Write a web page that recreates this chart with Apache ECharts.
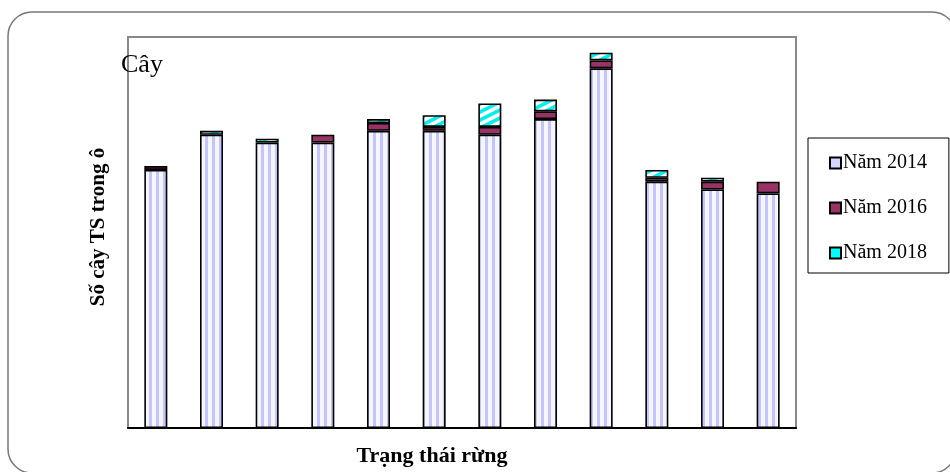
<!DOCTYPE html>
<html>
<head>
<meta charset="utf-8">
<script src="https://cdn.jsdelivr.net/npm/echarts@6/dist/echarts.min.js"></script>
<style>
  html, body { margin: 0; padding: 0; background: #fff; }
  #chart { width: 950px; height: 472px; }
</style>
</head>
<body>
<div id="chart"></div>
<script>
// Forest-state categories (unlabelled on the axis)
const categories = ['1', '2', '3', '4', '5', '6', '7', '8', '9', '10', '11', '12'];
// Regenerating trees per plot, stacked by survey year
const nam2014 = [66, 75, 73, 73, 76, 76, 75, 79, 92, 63, 61, 60];
const nam2016 = [1, 0, 0, 2, 2, 1, 2, 2, 2, 1, 2, 3];
const nam2018 = [0, 1, 1, 0, 1, 3, 6, 3, 2, 2, 1, 0];
const seriesNames = ['Năm 2014', 'Năm 2016', 'Năm 2018'];
const yMax = 100;

const SERIF = "'Liberation Serif', 'Times New Roman', serif";

// Empty segments are skipped so they leave no extra outline in the stack
const skipZero = arr => arr.map(v => (v === 0 ? '-' : v));

// Vertical lavender stripes
function stripePattern() {
  const c = document.createElement('canvas');
  c.width = 7; c.height = 7;
  const g = c.getContext('2d');
  g.fillStyle = '#f6f6ff';
  g.fillRect(0, 0, 7, 7);
  g.fillStyle = '#c4c4ff';
  g.fillRect(2, 0, 3, 7);
  return c;
}

// Wide upward diagonal cyan hatch
function hatchPattern() {
  const c = document.createElement('canvas');
  c.width = 16; c.height = 8;
  const g = c.getContext('2d');
  g.fillStyle = '#ffffff';
  g.fillRect(0, 0, 16, 8);
  g.strokeStyle = '#00f0f0';
  g.lineWidth = 3.5;
  for (let k = -1; k <= 1; k++) {
    g.beginPath();
    g.moveTo(-16, 16 + k * 8);
    g.lineTo(32, -8 + k * 8);
    g.stroke();
  }
  return c;
}

const chart = echarts.init(document.getElementById('chart'), null, { renderer: 'canvas' });

const barBase = {
  type: 'bar',
  stack: 'total',
  barWidth: 23,
  animation: false
};
const outline = { borderColor: '#000', borderWidth: 1.6 };

chart.setOption({
  backgroundColor: '#ffffff',
  animation: false,
  graphic: [{
    type: 'rect',
    z: -10,
    shape: { x: 8, y: 12, width: 948, height: 461, r: 24 },
    style: { fill: 'none', stroke: '#777777', lineWidth: 1.5 }
  }],
  title: {
    text: 'Cây',
    left: 121,
    top: 52,
    padding: 0,
    textStyle: { fontFamily: SERIF, fontSize: 26, fontWeight: 'normal', color: '#000', lineHeight: 26 }
  },
  legend: {
    orient: 'vertical',
    left: 808,
    top: 138,
    padding: [15, 22, 10, 21],
    itemGap: 25,
    itemWidth: 11,
    itemHeight: 11,
    icon: 'rect',
    backgroundColor: '#ffffff',
    borderColor: '#000000',
    borderWidth: 1,
    borderRadius: 0,
    textStyle: { fontFamily: SERIF, fontSize: 20, color: '#000', lineHeight: 20, padding: [0, 0, 0, -3] },
    itemStyle: { borderColor: '#000', borderWidth: 2 },
    data: [
      { name: seriesNames[0], itemStyle: { color: '#d6d6ff' } },
      { name: seriesNames[1], itemStyle: { color: '#993366' } },
      { name: seriesNames[2], itemStyle: { color: '#00ffff' } }
    ]
  },
  grid: {
    left: 128, top: 37, width: 668, height: 391,
    show: true,
    borderColor: '#888888',
    borderWidth: 2,
    backgroundColor: 'transparent'
  },
  xAxis: {
    type: 'category',
    data: categories,
    name: 'Trạng thái rừng',
    nameLocation: 'middle',
    nameGap: 17,
    nameTextStyle: { fontFamily: SERIF, fontSize: 22, fontWeight: 'bold', color: '#000', padding: [0, 60, 0, 0], lineHeight: 22 },
    axisLine: { show: true, lineStyle: { color: '#000', width: 2 } },
    axisTick: { show: false },
    axisLabel: { show: false },
    splitLine: { show: false }
  },
  yAxis: {
    type: 'value',
    min: 0,
    max: yMax,
    name: 'Số cây TS trong ô',
    nameLocation: 'middle',
    nameRotate: 90,
    nameGap: 19,
    nameTextStyle: { fontFamily: SERIF, fontSize: 21, fontWeight: 'bold', color: '#000', padding: [0, 0, 0, 11], lineHeight: 21 },
    axisLine: { show: false },
    axisTick: { show: false },
    axisLabel: { show: false },
    splitLine: { show: false }
  },
  series: [
    Object.assign({}, barBase, {
      name: seriesNames[0],
      data: skipZero(nam2014),
      itemStyle: Object.assign({ color: { image: stripePattern(), repeat: 'repeat' } }, outline)
    }),
    Object.assign({}, barBase, {
      name: seriesNames[1],
      data: skipZero(nam2016),
      itemStyle: Object.assign({ color: '#993366' }, outline)
    }),
    Object.assign({}, barBase, {
      name: seriesNames[2],
      data: skipZero(nam2018),
      itemStyle: Object.assign({ color: { image: hatchPattern(), repeat: 'repeat' } }, outline)
    })
  ]
});
</script>
</body>
</html>
